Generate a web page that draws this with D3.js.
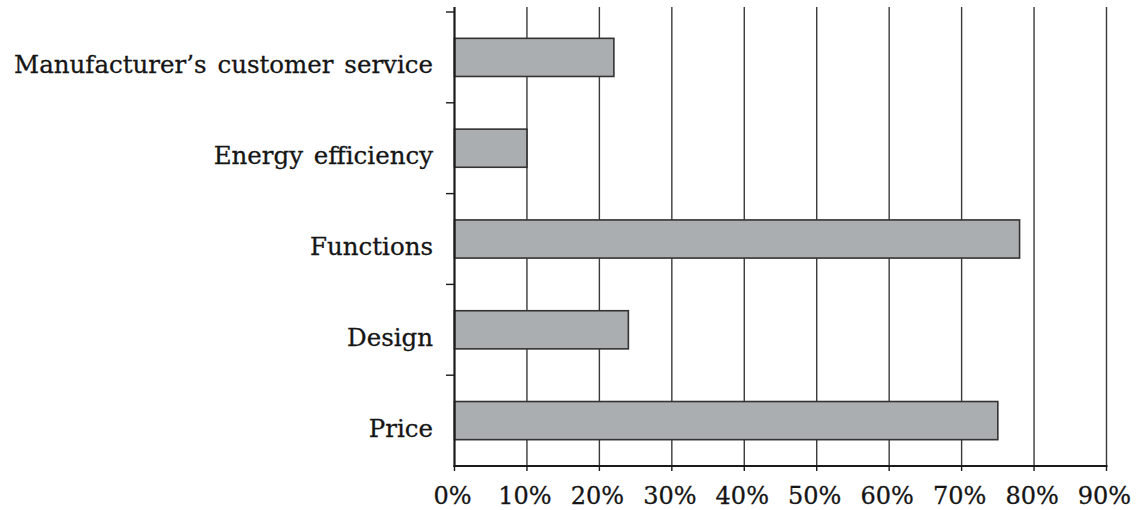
<!DOCTYPE html>
<html><head><meta charset="utf-8">
<script src="https://cdn.jsdelivr.net/npm/d3@7"></script>
<style>body{margin:0;background:#fff}svg{display:block}</style>
</head><body>
<svg id="c" width="1136" height="510"></svg>
<script>
const categories = ["Manufacturer’s customer service","Energy efficiency","Functions","Design","Price"];
const values = [22, 10, 78, 24, 75];
const xTicks = [0,10,20,30,40,50,60,70,80,90];
const tickLabels = ["0%","10%","20%","30%","40%","50%","60%","70%","80%","90%"];

const svg = d3.select("#c");
const font = "'DejaVu Serif', 'Liberation Serif', serif";
const x = d3.scaleLinear().domain([0,90]).range([454.5,1106.5]);
const yb = d3.scaleBand().domain(categories).range([12,466]).padding(0);
const y = d3.scaleBand().domain(categories).range([12,466]).paddingInner(0.58).paddingOuter(0.29);

// gridlines
svg.append("g").selectAll("line").data(xTicks.slice(1)).join("line")
  .attr("x1",d=>x(d)).attr("x2",d=>x(d)).attr("y1",7).attr("y2",466)
  .attr("stroke","#3a3a3a").attr("stroke-width",1.4);

// bars
svg.append("g").selectAll("rect").data(categories).join("rect")
  .attr("x",x(0)).attr("y",d=>y(d)).attr("height",y.bandwidth())
  .attr("width",(d,i)=>x(values[i])-x(0))
  .attr("fill","#abaeb1").attr("stroke","#333").attr("stroke-width",1.6);

// left axis
svg.append("line").attr("x1",x(0)).attr("x2",x(0)).attr("y1",7).attr("y2",467)
  .attr("stroke","#1a1a1a").attr("stroke-width",2.2);
svg.append("g").selectAll("line").data(categories).join("line")
  .attr("x1",446).attr("x2",x(0)).attr("y1",d=>yb(d)).attr("y2",d=>yb(d))
  .attr("stroke","#1a1a1a").attr("stroke-width",1.4);

// bottom axis
svg.append("line").attr("x1",x(0)-1).attr("x2",x(90)+1).attr("y1",466).attr("y2",466)
  .attr("stroke","#1a1a1a").attr("stroke-width",2.2);
svg.append("g").selectAll("line").data(xTicks).join("line")
  .attr("x1",d=>x(d)).attr("x2",d=>x(d)).attr("y1",466).attr("y2",471)
  .attr("stroke","#1a1a1a").attr("stroke-width",1.4);

// tick labels
svg.append("g").selectAll("text").data(xTicks).join("text")
  .attr("x",d=>x(d)-2).attr("y",504).attr("text-anchor","middle")
  .attr("font-family",font).attr("font-size",24).attr("fill","#151515")
  .attr("stroke","#151515").attr("stroke-width",0.3)
  .text((d,i)=>tickLabels[i]);

// category labels
svg.append("g").selectAll("text").data(categories).join("text")
  .attr("x",433).attr("y",d=>yb(d)+yb.bandwidth()/2+16).attr("text-anchor","end")
  .attr("font-family",font).attr("font-size",24.5).attr("fill","#151515")
  .attr("stroke","#151515").attr("stroke-width",0.3)
  .attr("word-spacing",3)
  .text(d=>d);
</script>
</body></html>
